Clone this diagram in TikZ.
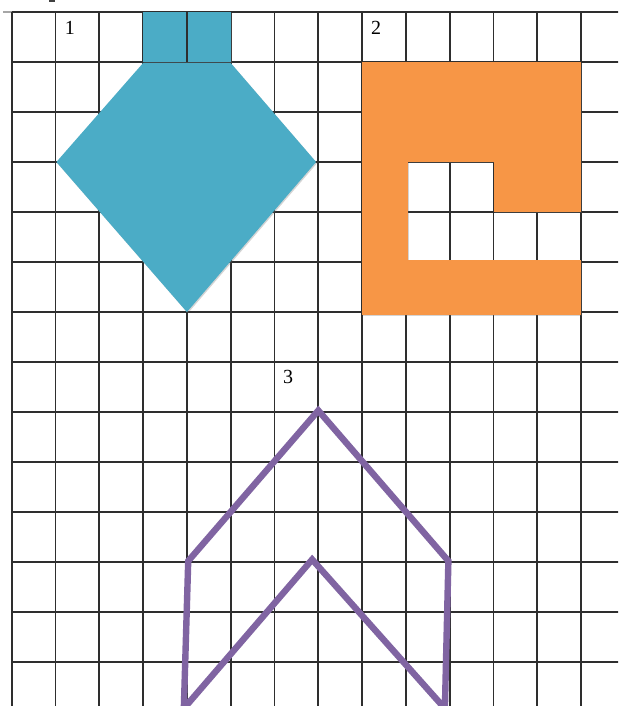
\documentclass[tikz,border=0pt]{standalone}
\usepackage{fontspec}
\setmainfont{Liberation Serif}
\usetikzlibrary{shadows}
\definecolor{cyanfig}{HTML}{4BACC6}
\definecolor{orangefig}{HTML}{F79646}
\definecolor{purplefig}{HTML}{8064A2}
\definecolor{gridcol}{HTML}{2E2E2E}
\tikzset{
  gridline/.style={draw=gridcol, line width=1.7pt},
  softshadow/.style={drop shadow={shadow xshift=1pt, shadow yshift=-1.2pt, opacity=0.28, fill=black!60}},
  cyanshape/.style={fill=cyanfig, softshadow},
  orangeshape/.style={fill=orangefig, softshadow},
  purpleline/.style={draw=purplefig, line width=6.4pt, line join=miter},
  numlabel/.style={font=\fontsize{20}{24}\selectfont, inner sep=0pt}
}
\begin{document}
\begin{tikzpicture}
\useasboundingbox (0,0) rectangle (618pt,-706pt);
\clip (0,0) rectangle (618pt,-706pt);
\fill[white] (0,0) rectangle (618pt,-706pt);
% fragments at the top edge
\fill[black!75] (49pt,0) rectangle (55pt,-2pt);
\draw[black!35, line width=1.2pt] (3pt,-12pt) -- (11.7pt,-12pt);
\begin{scope}[shift={(11.7pt,-12pt)}, x=43.8pt, y=-50pt]
  % grid
  \foreach \i in {0,...,13} \draw[gridline] (\i,0) -- (\i,13.9);
  \foreach \j in {0,...,13} \draw[gridline] (0,\j) -- (13.9,\j);
  % figure 1
  \fill[cyanshape] (3,0) rectangle (5,1);
  \draw[gridline] (4,0) -- (4,1);
  \fill[cyanshape] (3,1.02) -- (5,1.02) -- (6.95,3) -- (4,6) -- (1.02,3) -- cycle;
  \node[numlabel] (n1) at (1.33,0.32) {1};
  % figure 2
  \fill[orangeshape] (8,1) rectangle (13,3);
  \fill[orangeshape] (11,3) rectangle (13,3.99);
  \fill[orangeshape] (8,3) rectangle (9.055,4.96);
  \fill[orangeshape] (8,4.96) rectangle (13,6.06);
  \node[numlabel] (n2) at (8.32,0.32) {2};
  % figure 3
  \coordinate (apex) at (7,7.97);
  \coordinate (rc) at (9.97,10.98);
  \coordinate (rb) at (9.89,13.93);
  \coordinate (ia) at (6.86,10.95);
  \coordinate (lb) at (3.93,13.93);
  \coordinate (lc) at (4.03,10.98);
  \draw[purpleline] (apex) -- (rc) -- (rb) -- (ia) -- (lb) -- (lc) -- cycle;
  \node[numlabel] (n3) at (6.31,7.29) {3};
\end{scope}
\end{tikzpicture}
\end{document}
